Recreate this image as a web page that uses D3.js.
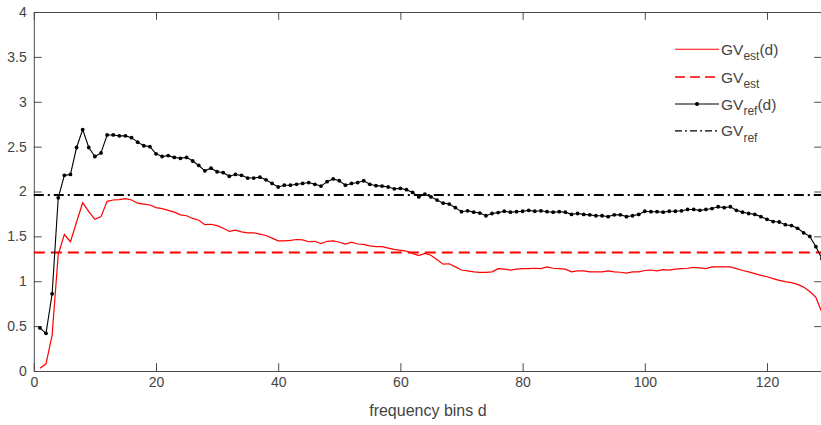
<!DOCTYPE html>
<html>
<head>
<meta charset="utf-8">
<script src="https://cdn.jsdelivr.net/npm/d3@7"></script>
<style>
  body { margin: 0; background: #fff; }
  svg { display: block; font-family: "Liberation Sans", Arial, Helvetica, sans-serif; }
</style>
</head>
<body>
<svg id="chart" width="821" height="425"></svg>
<script>
// Frequency bins d = 1 .. 129
const bins = d3.range(1, 130);

// GV_ref(d): reference global variance per frequency bin
const gvRefCurve = [
  0.48, 0.42, 0.86, 1.93, 2.18, 2.19, 2.49, 2.69, 2.49, 2.39,
  2.43, 2.63, 2.63, 2.62, 2.62, 2.60, 2.55, 2.51, 2.50, 2.42,
  2.39, 2.40, 2.38, 2.37, 2.38, 2.34, 2.29, 2.23, 2.26, 2.22,
  2.21, 2.17, 2.19, 2.18, 2.15, 2.15, 2.16, 2.13, 2.09, 2.05,
  2.07, 2.07, 2.08, 2.09, 2.10, 2.08, 2.06, 2.11, 2.14, 2.12,
  2.07, 2.09, 2.10, 2.12, 2.08, 2.065, 2.06, 2.05, 2.03, 2.035,
  2.02, 1.99, 1.94, 1.97, 1.94, 1.905, 1.87, 1.86, 1.82, 1.775,
  1.785, 1.77, 1.76, 1.73, 1.755, 1.765, 1.78, 1.77, 1.775, 1.78,
  1.79, 1.78, 1.785, 1.775, 1.77, 1.775, 1.77, 1.745, 1.755, 1.745,
  1.74, 1.73, 1.73, 1.72, 1.74, 1.74, 1.72, 1.73, 1.745, 1.78,
  1.775, 1.775, 1.77, 1.78, 1.78, 1.785, 1.80, 1.80, 1.79, 1.80,
  1.81, 1.83, 1.82, 1.83, 1.79, 1.77, 1.755, 1.745, 1.72, 1.69,
  1.665, 1.66, 1.63, 1.62, 1.59, 1.54, 1.50, 1.385, 1.25
];

// GV_est(d): estimated global variance per frequency bin
const gvEstCurve = [
  0.03, 0.08, 0.40, 1.30, 1.52, 1.44, 1.66, 1.875, 1.775, 1.69,
  1.72, 1.89, 1.905, 1.91, 1.92, 1.905, 1.87, 1.86, 1.85, 1.82,
  1.81, 1.79, 1.77, 1.74, 1.73, 1.70, 1.68, 1.63, 1.635, 1.62,
  1.59, 1.555, 1.57, 1.55, 1.54, 1.54, 1.525, 1.51, 1.48, 1.45,
  1.45, 1.455, 1.465, 1.46, 1.44, 1.445, 1.42, 1.445, 1.45, 1.435,
  1.415, 1.435, 1.415, 1.41, 1.395, 1.385, 1.385, 1.37, 1.355, 1.345,
  1.335, 1.31, 1.285, 1.31, 1.29, 1.24, 1.19, 1.195, 1.16, 1.125,
  1.115, 1.105, 1.10, 1.10, 1.105, 1.14, 1.135, 1.125, 1.135, 1.14,
  1.14, 1.145, 1.14, 1.16, 1.145, 1.14, 1.135, 1.105, 1.115, 1.115,
  1.105, 1.105, 1.105, 1.115, 1.105, 1.10, 1.09, 1.105, 1.105, 1.12,
  1.125, 1.115, 1.13, 1.125, 1.135, 1.14, 1.145, 1.155, 1.15, 1.14,
  1.16, 1.16, 1.16, 1.16, 1.14, 1.12, 1.105, 1.085, 1.065, 1.05,
  1.03, 1.01, 0.995, 0.985, 0.965, 0.935, 0.885, 0.82, 0.65
];

// Overall levels
const gvRefLevel = 1.96;
const gvEstLevel = 1.32;

// Axis ticks
const xTicks = [0, 20, 40, 60, 80, 100, 120];
const yTicks = [0, 0.5, 1, 1.5, 2, 2.5, 3, 3.5, 4];
const xLabel = "frequency bins d";

// Legend entries: base text, subscript, suffix
const legendBase = ["GV", "GV", "GV", "GV"];
const legendSub = ["est", "est", "ref", "ref"];
const legendSuffix = ["(d)", "", "(d)", ""];

const svg = d3.select("#chart");
const box = { left: 33.8, right: 822, top: 12, bottom: 371 };
const tickLen = 7.8;
const axisColor = "#4a4a4a";
const textColor = "#444";

const x = d3.scaleLinear().domain([0, 129]).range([box.left, box.right]);
const y = d3.scaleLinear().domain([0, 4]).range([box.bottom, box.top]);

function styleAxis(g, hideText) {
  g.selectAll("path, line").attr("stroke", axisColor).attr("stroke-width", 1);
  g.selectAll("text").attr("fill", textColor).attr("font-size", 14);
  if (hideText) g.selectAll("text").remove();
}

// Box axes
svg.append("g").attr("transform", `translate(0,${box.bottom})`)
  .call(d3.axisBottom(x).tickValues(xTicks).tickSizeInner(-tickLen).tickSizeOuter(0).tickPadding(6).tickFormat(d3.format("d")))
  .call(g => styleAxis(g, false));
svg.append("g").attr("transform", `translate(0,${box.top})`)
  .call(d3.axisTop(x).tickValues(xTicks).tickSizeInner(-tickLen).tickSizeOuter(0))
  .call(g => styleAxis(g, true));
svg.append("g").attr("transform", `translate(${box.left},0)`)
  .call(d3.axisLeft(y).tickValues(yTicks).tickSizeInner(-tickLen).tickSizeOuter(0).tickPadding(7).tickFormat(d => String(d)))
  .call(g => styleAxis(g, false));
svg.append("g").attr("transform", `translate(${box.right},0)`)
  .call(d3.axisRight(y).tickValues(yTicks).tickSizeInner(-tickLen).tickSizeOuter(0))
  .call(g => styleAxis(g, true));

svg.append("text")
  .attr("x", (box.left + box.right) / 2).attr("y", 416)
  .attr("text-anchor", "middle").attr("font-size", 16).attr("fill", textColor)
  .text(xLabel);

const plot = svg.append("g");

// Level lines
plot.append("line")
  .attr("x1", x(0)).attr("x2", x(129)).attr("y1", y(gvEstLevel)).attr("y2", y(gvEstLevel))
  .attr("stroke", "#ff0000").attr("stroke-width", 2).attr("stroke-dasharray", "11,6");
plot.append("line")
  .attr("x1", x(0)).attr("x2", x(129)).attr("y1", y(gvRefLevel)).attr("y2", y(gvRefLevel))
  .attr("stroke", "#000").attr("stroke-width", 2).attr("stroke-dasharray", "10,4,2,4");

const estData = bins.map((d, i) => ({ d, v: gvEstCurve[i] }));
const refData = bins.map((d, i) => ({ d, v: gvRefCurve[i] }));
const line = d3.line().x(p => x(p.d)).y(p => y(p.v));

plot.append("path").datum(estData)
  .attr("d", line).attr("fill", "none").attr("stroke", "#ff0000").attr("stroke-width", 1.2);

plot.append("path").datum(refData)
  .attr("d", line).attr("fill", "none").attr("stroke", "#000").attr("stroke-width", 1.1);
plot.selectAll("circle.ref").data(refData).join("circle")
  .attr("class", "ref").attr("cx", p => x(p.d)).attr("cy", p => y(p.v)).attr("r", 1.9).attr("fill", "#000");

// Legend
const legendStyles = [
  { stroke: "#ff0000", dash: null, width: 1.1, marker: false },
  { stroke: "#ff0000", dash: "10,5", width: 1.4, marker: false },
  { stroke: "#000", dash: null, width: 1.1, marker: true },
  { stroke: "#000", dash: "7,3,2,3", width: 1.2, marker: false }
];
const legendRows = [49.3, 77, 104, 130.8];
const lg = svg.append("g");
legendRows.forEach((ry, i) => {
  const s = legendStyles[i];
  lg.append("line").attr("x1", 675).attr("x2", 719).attr("y1", ry).attr("y2", ry)
    .attr("stroke", s.stroke).attr("stroke-width", s.width)
    .attr("stroke-dasharray", s.dash);
  if (s.marker) lg.append("circle").attr("cx", 697).attr("cy", ry).attr("r", 2).attr("fill", "#000");
  const t = lg.append("text").attr("x", 721).attr("y", ry + 5.5)
    .attr("font-size", 15.5).attr("fill", textColor);
  t.append("tspan").text(legendBase[i]);
  t.append("tspan").attr("dy", 5.5).attr("font-size", 12).text(legendSub[i]);
  if (legendSuffix[i]) t.append("tspan").attr("dy", -5.5).attr("font-size", 15.5).text(legendSuffix[i]);
});
</script>
</body>
</html>
